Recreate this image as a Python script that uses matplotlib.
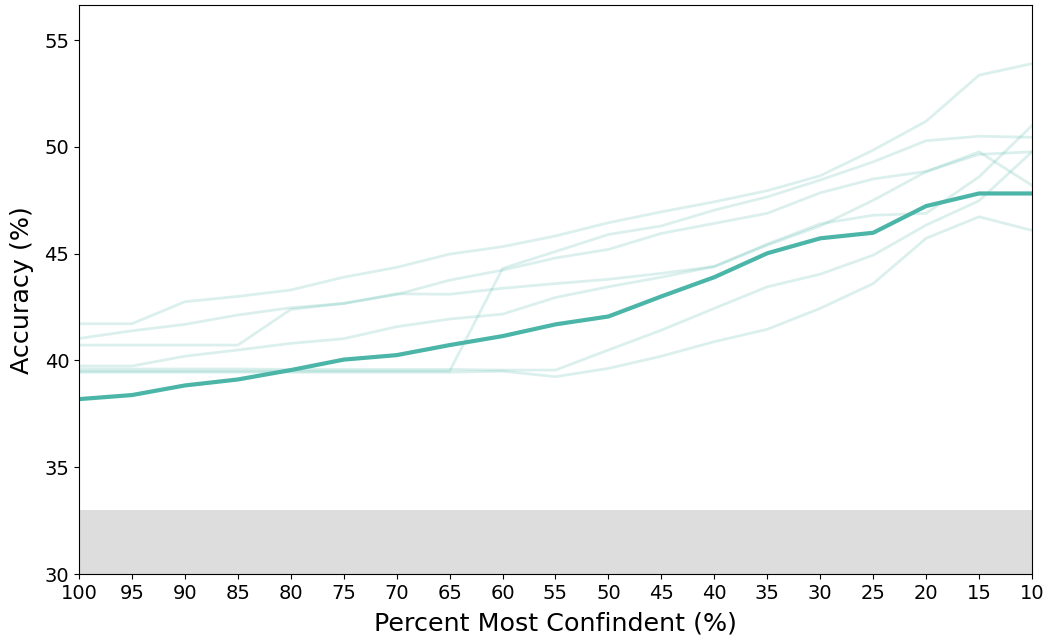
import numpy as np
import matplotlib.pyplot as plt

# x positions (percent most confident)
pct = [100, 95, 90, 85, 80, 75, 70, 65, 60, 55, 50, 45, 40, 35, 30, 25, 20, 15, 10]

# highlighted run
main = [38.19, 38.38, 38.83, 39.11, 39.55, 40.04, 40.25, 40.72, 41.14, 41.69, 42.06, 43.0, 43.9,
        45.02, 45.72, 45.98, 47.23, 47.82, 47.82]

# faint runs
run1 = [41.72, 41.72, 42.75, 43.0, 43.3, 43.9, 44.36, 44.98, 45.33, 45.83, 46.45, 46.96, 47.43,
        47.95, 48.65, 49.85, 51.2, 53.36, 53.9]
run2 = [41.03, 41.39, 41.69, 42.13, 42.47, 42.67, 43.09, 43.76, 44.23, 44.8, 45.2, 45.95, 46.42,
        46.89, 47.85, 48.5, 48.85, 49.65, 49.77]
run3 = [39.5, 39.5, 39.5, 39.5, 39.5, 39.5, 39.5, 39.5, 44.31, 45.1, 45.9, 46.3, 47.04,
        47.66, 48.45, 49.3, 50.29, 50.5, 50.45]
run4 = [40.72, 40.72, 40.72, 40.72, 42.39, 42.67, 43.12, 43.1, 43.38, 43.6, 43.8, 44.08, 44.4,
        45.45, 46.4, 46.8, 46.89, 48.6, 51.0]
run5 = [39.74, 39.74, 40.2, 40.49, 40.8, 41.02, 41.58, 41.94, 42.17, 42.95, 43.45, 43.9, 44.4,
        45.4, 46.3, 47.5, 48.84, 49.77, 48.2]
run6 = [39.6, 39.6, 39.6, 39.6, 39.58, 39.58, 39.58, 39.58, 39.55, 39.55, 40.49, 41.42, 42.44,
        43.45, 44.04, 44.93, 46.34, 47.48, 49.77]
run7 = [39.45, 39.45, 39.45, 39.45, 39.45, 39.45, 39.45, 39.45, 39.5, 39.24, 39.63, 40.2, 40.88,
        41.46, 42.44, 43.6, 45.72, 46.73, 46.09]

teal = '#4bb5a8'

fig = plt.figure(figsize=(10.49, 6.4), dpi=100)
ax = fig.add_axes([0.0753, 0.1031, 0.9085, 0.8889])

ax.axhspan(30, 33, color='#dddddd', lw=0, zorder=0)

for r in [run1, run2, run3, run4, run5, run6, run7]:
    ax.plot(pct, r, c=teal, alpha=0.2, lw=2)
ax.plot(pct, main, c=teal, lw=3)

ax.set_xlim(100, 10)
ax.set_ylim(30, 56.64)
ax.set_xticks(pct)
ax.set_yticks([30, 35, 40, 45, 50, 55])
ax.tick_params(labelsize=14)
ax.set_xlabel('Percent Most Confindent (%)', fontsize=18.3, labelpad=6.5)
ax.set_ylabel('Accuracy (%)', fontsize=18.3, labelpad=7.5)

fig.savefig('out.png', dpi=100)
